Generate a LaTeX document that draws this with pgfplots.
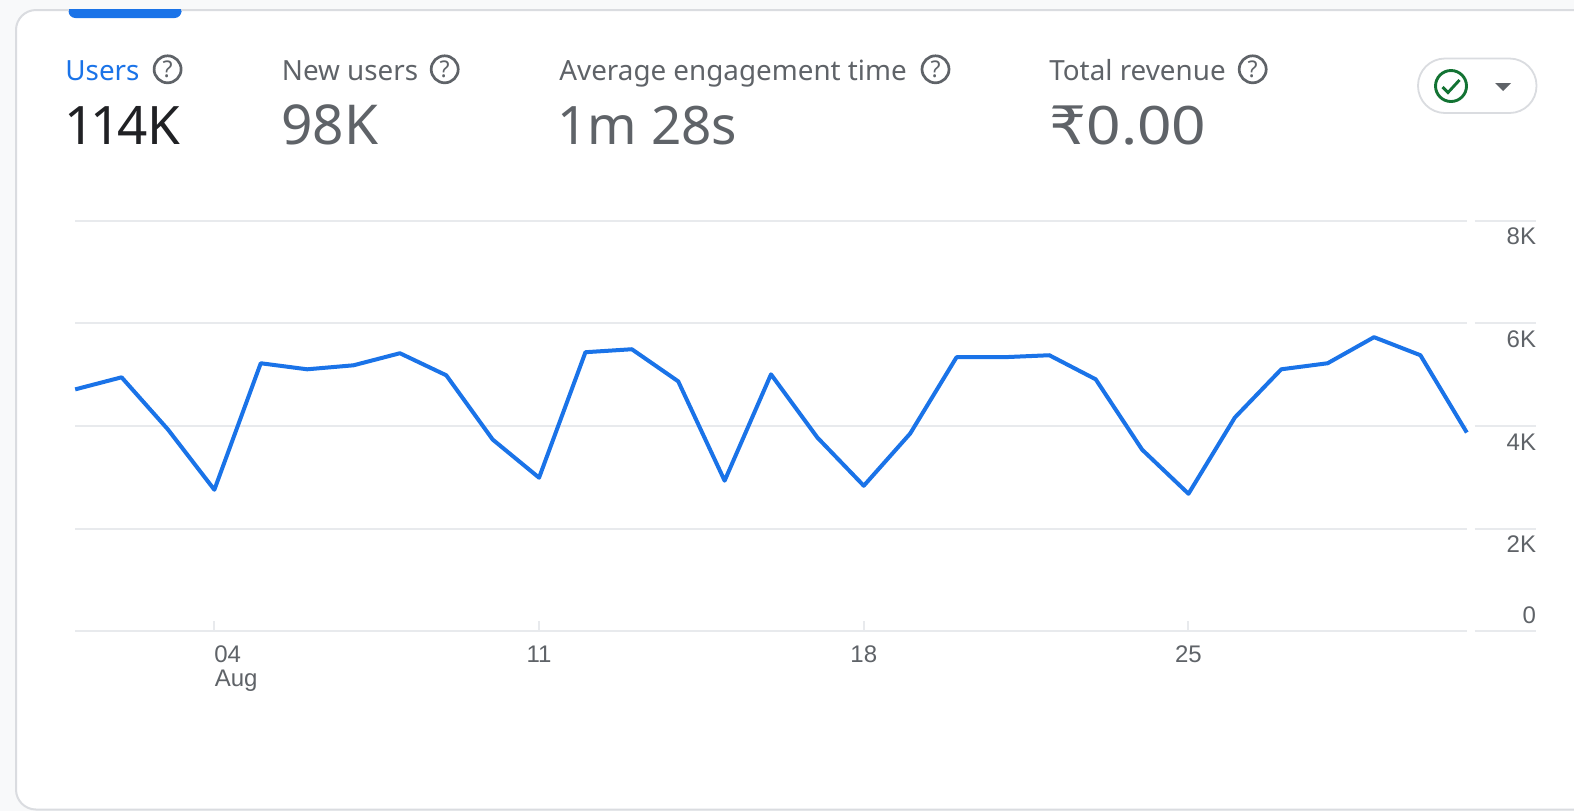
\documentclass[border=0pt]{standalone}
\usepackage{fontspec}
\setmainfont{Noto Sans}
\newfontfamily\rupeefont[FakeStretch=1.1]{DejaVu Sans}
\newfontfamily\widefont[FakeStretch=1.14]{Noto Sans}
\newfontfamily\tickfont{Liberation Sans}
\usepackage{pgfplots}
\pgfplotsset{compat=1.18}
\definecolor{gblue}{HTML}{1A73E8}
\definecolor{ggray}{HTML}{5F6368}
\definecolor{gdark}{HTML}{202124}
\definecolor{ggrid}{HTML}{E8EAED}
\definecolor{gborder}{HTML}{DADCE0}
\definecolor{gbg}{HTML}{F8F9FA}
\definecolor{ggreen}{HTML}{137333}
\newcommand{\helpicon}[2]{%
  \draw[ggray,line width=1.35pt] (#1,#2) circle (13.5);
  \node[ggray,font=\fontsize{11.5pt}{12pt}\selectfont,inner sep=0pt] at (#1,#2) {?};}
\begin{document}
\begin{tikzpicture}
\useasboundingbox (0pt,0pt) rectangle (787pt,-405.5pt);
\begin{scope}[x=0.5pt,y=-0.5pt]
\fill[gbg] (0,0) rectangle (1574,811);
\filldraw[fill=white,draw=gborder,line width=1pt,rounded corners=10pt] (16,10) -- (16,809.5) -- (1600,809.5) -- (1600,10) -- cycle;
\fill[gblue,rounded corners=3.5pt] (68.5,5) rectangle (181.5,18);
\fill[gbg] (60,0) rectangle (190,9);
\draw[gborder,line width=1pt] (60,10) -- (68.5,10);
\draw[gborder,line width=1pt] (181.5,10) -- (190,10);
\node[anchor=base west,inner sep=0pt,gblue,font=\fontsize{13.9pt}{15pt}\selectfont] at (65,80) {Users};
\node[anchor=base west,inner sep=0pt,ggray,font=\fontsize{13.9pt}{15pt}\selectfont] at (281.5,80) {New users};
\node[anchor=base west,inner sep=0pt,ggray,font=\fontsize{13.9pt}{15pt}\selectfont] at (559,80) {Average engagement time};
\node[anchor=base west,inner sep=0pt,ggray,font=\fontsize{13.9pt}{15pt}\selectfont] at (1049,80) {Total revenue};
\helpicon{167.6}{69.3}
\helpicon{444.7}{69.3}
\helpicon{935.5}{69.3}
\helpicon{1252.7}{69.3}
\node[anchor=base west,inner sep=0pt,gdark,font=\fontsize{26.5pt}{30pt}\selectfont] at (64,144) {1\kern-2pt 1\kern-2pt 4K};
\node[anchor=base west,inner sep=0pt,ggray,font=\fontsize{27.5pt}{30pt}\selectfont] at (281,144) {98K};
\node[anchor=base west,inner sep=0pt,ggray,font=\fontsize{26.5pt}{30pt}\selectfont] at (557,144) {1m 28s};
\node[anchor=base west,inner sep=0pt,ggray,font=\fontsize{26.5pt}{30pt}\selectfont] at (1049,144) {{\rupeefont ₹}{\widefont 0.00}};
\draw[gborder,line width=0.9pt,fill=white,rounded corners=13.5pt] (1418,58.5) rectangle (1536.5,113);
\draw[ggreen,line width=1.45pt] (1451,86) circle (15.5);
\draw[ggreen,line width=1.45pt] (1442.5,87) -- (1448,92.5) -- (1459.5,80);
\fill[ggray] (1495,83) -- (1511,83) -- (1503,91) -- cycle;
\end{scope}
\begin{axis}[
  at={(37.6pt,-315.65pt)},anchor=south west,
  scale only axis,width=695.8pt,height=205.3pt,
  xmin=1,xmax=31,ymin=0,ymax=8000,
  clip=false,
  axis x line*=bottom,axis y line*=right,
  axis line style={draw=none},
  y axis line style={draw=none},
  ymajorgrids,grid style={ggrid,line width=1pt},
  xtick={4,11,18,25},xticklabels={\rlap{04},11,18,25},
  ytick={0,2000,4000,6000,8000},
  yticklabels={\raisebox{16pt}{0},2K,4K,6K,8K},
  scaled y ticks=false,
  major tick length=5pt,
  tick style={ggrid,line width=1pt},
  ytick style={draw=none},
  xticklabel style={anchor=base,inner sep=0pt,yshift=-15.5pt,text=ggray,font=\tickfont\fontsize{12pt}{14pt}\selectfont},
  yticklabel style={anchor=base east,inner sep=0pt,xshift=34.8pt,yshift=-12pt,text=ggray,font=\tickfont\fontsize{12pt}{14pt}\selectfont},
]
\addplot[gblue,line width=2pt,mark=none,line join=round] coordinates {
(1,4714)(2,4949)(3,3932)(4,2758)(5,5223)(6,5105)(7,5183)(8,5418)(9,4988)(10,3736)
(11,2993)(12,5438)(13,5496)(14,4870)(15,2934)(16,5007)(17,3775)(18,2836)(19,3853)(20,5340)
(21,5340)(22,5379)(23,4910)(24,3540)(25,2680)(26,4166)(27,5105)(28,5223)(29,5731)(30,5379)(31,3873)};
\node[anchor=base west,inner sep=0pt,text=ggray,font=\tickfont\fontsize{12pt}{14pt}\selectfont] at ([yshift=-27.5pt]axis cs:4,0) {Aug};
\foreach \v in {0,2000,4000,6000,8000}{
  \edef\tmp{\noexpand\draw[ggrid,line width=1pt] ([xshift=4pt]axis cs:31,\v) -- ([xshift=34.5pt]axis cs:31,\v);}\tmp
}
\end{axis}
\end{tikzpicture}
\end{document}
